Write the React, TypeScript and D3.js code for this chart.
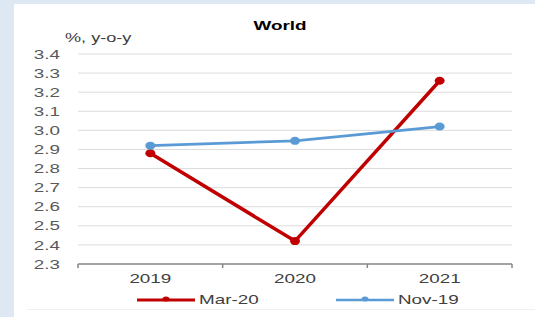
import { useMemo } from "react";
import * as d3 from "d3";

const years = ["2019", "2020", "2021"];
const mar20 = [2.88, 2.42, 3.26];
const nov19 = [2.92, 2.945, 3.02];
const yTicks = [2.3, 2.4, 2.5, 2.6, 2.7, 2.8, 2.9, 3.0, 3.1, 3.2, 3.3, 3.4];

const series = [
    { name: "Mar-20", values: mar20, color: "#c00000", width: 3.5 },
    { name: "Nov-19", values: nov19, color: "#5b9bd5", width: 2.8 },
];

const W = 535;
const H = 317;
const font = "'Liberation Sans', Arial, sans-serif";
// the source image is stretched sideways, so the text is too
const SX = 1.45;

type LabelProps = {
    x: number;
    y: number;
    anchor?: "start" | "middle" | "end";
    size?: number;
    bold?: boolean;
    fill?: string;
    children: string;
};

const Label = ({ x, y, anchor = "start", size = 13, bold = false, fill = "#404040", children }: LabelProps) => (
    <text
        transform={`translate(${x},${y}) scale(${SX},1)`}
        textAnchor={anchor}
        fontFamily={font}
        fontSize={size}
        fontWeight={bold ? "bold" : "normal"}
        fill={fill}
    >
        {children}
    </text>
);

export default function App() {
    const x = useMemo(() => d3.scaleBand<string>().domain(years).range([78, 512]), []);
    const y = useMemo(() => d3.scaleLinear().domain([2.3, 3.4]).range([264, 54]), []);

    const line = d3
        .line<number>()
        .x((_, i) => (x(years[i]) ?? 0) + x.bandwidth() / 2)
        .y((d) => y(d));

    const [x0, x1] = x.range();
    const edges = [...years.map((c) => x(c) ?? 0), x1];

    return (
        <svg width={W} height={H} style={{ position: "absolute", left: 0, top: 0 }}>
            <rect x={0} y={0} width={W} height={H} fill="#dde8f3" />
            <rect x={14} y={4} width={W - 14} height={H - 4} fill="#ffffff" />
            <line x1={27} x2={W} y1={309.5} y2={309.5} stroke="#f0f0f0" />

            <Label x={280} y={30} anchor="middle" bold fill="#000">
                World
            </Label>
            <Label x={65} y={42} size={12.5}>
                %, y-o-y
            </Label>

            {yTicks.map((t) => (
                <g key={t}>
                    {t > 2.3 && (
                        <line x1={x0} x2={x1} y1={y(t)} y2={y(t)} stroke="#dcdcdc" strokeWidth={1} />
                    )}
                    <Label x={60} y={y(t) + 4.6} anchor="end" fill="#595959">
                        {t.toFixed(1)}
                    </Label>
                </g>
            ))}

            <line x1={x0} x2={x1} y1={y(2.3)} y2={y(2.3)} stroke="#868686" strokeWidth={1.5} />
            {edges.map((e, i) => (
                <line key={i} x1={e} x2={e} y1={y(2.3)} y2={y(2.3) + 4} stroke="#868686" strokeWidth={1.5} />
            ))}
            {years.map((c) => (
                <Label key={c} x={(x(c) ?? 0) + x.bandwidth() / 2} y={283} anchor="middle">
                    {c}
                </Label>
            ))}

            {series.map((s) => (
                <g key={s.name}>
                    <path d={line(s.values) ?? ""} fill="none" stroke={s.color} strokeWidth={s.width} />
                    {s.values.map((v, i) => (
                        <ellipse
                            key={i}
                            cx={(x(years[i]) ?? 0) + x.bandwidth() / 2}
                            cy={y(v)}
                            rx={5}
                            ry={4}
                            fill={s.color}
                        />
                    ))}
                </g>
            ))}

            {series.map((s, i) => {
                const lx = i === 0 ? 137 : 336;
                return (
                    <g key={s.name}>
                        <line x1={lx} x2={lx + 58} y1={300} y2={300} stroke={s.color} strokeWidth={s.width - 0.5} />
                        <ellipse cx={lx + 29} cy={299} rx={3.5} ry={2.5} fill={s.color} />
                        <Label x={lx + 62} y={304}>
                            {s.name}
                        </Label>
                    </g>
                );
            })}
        </svg>
    );
}
